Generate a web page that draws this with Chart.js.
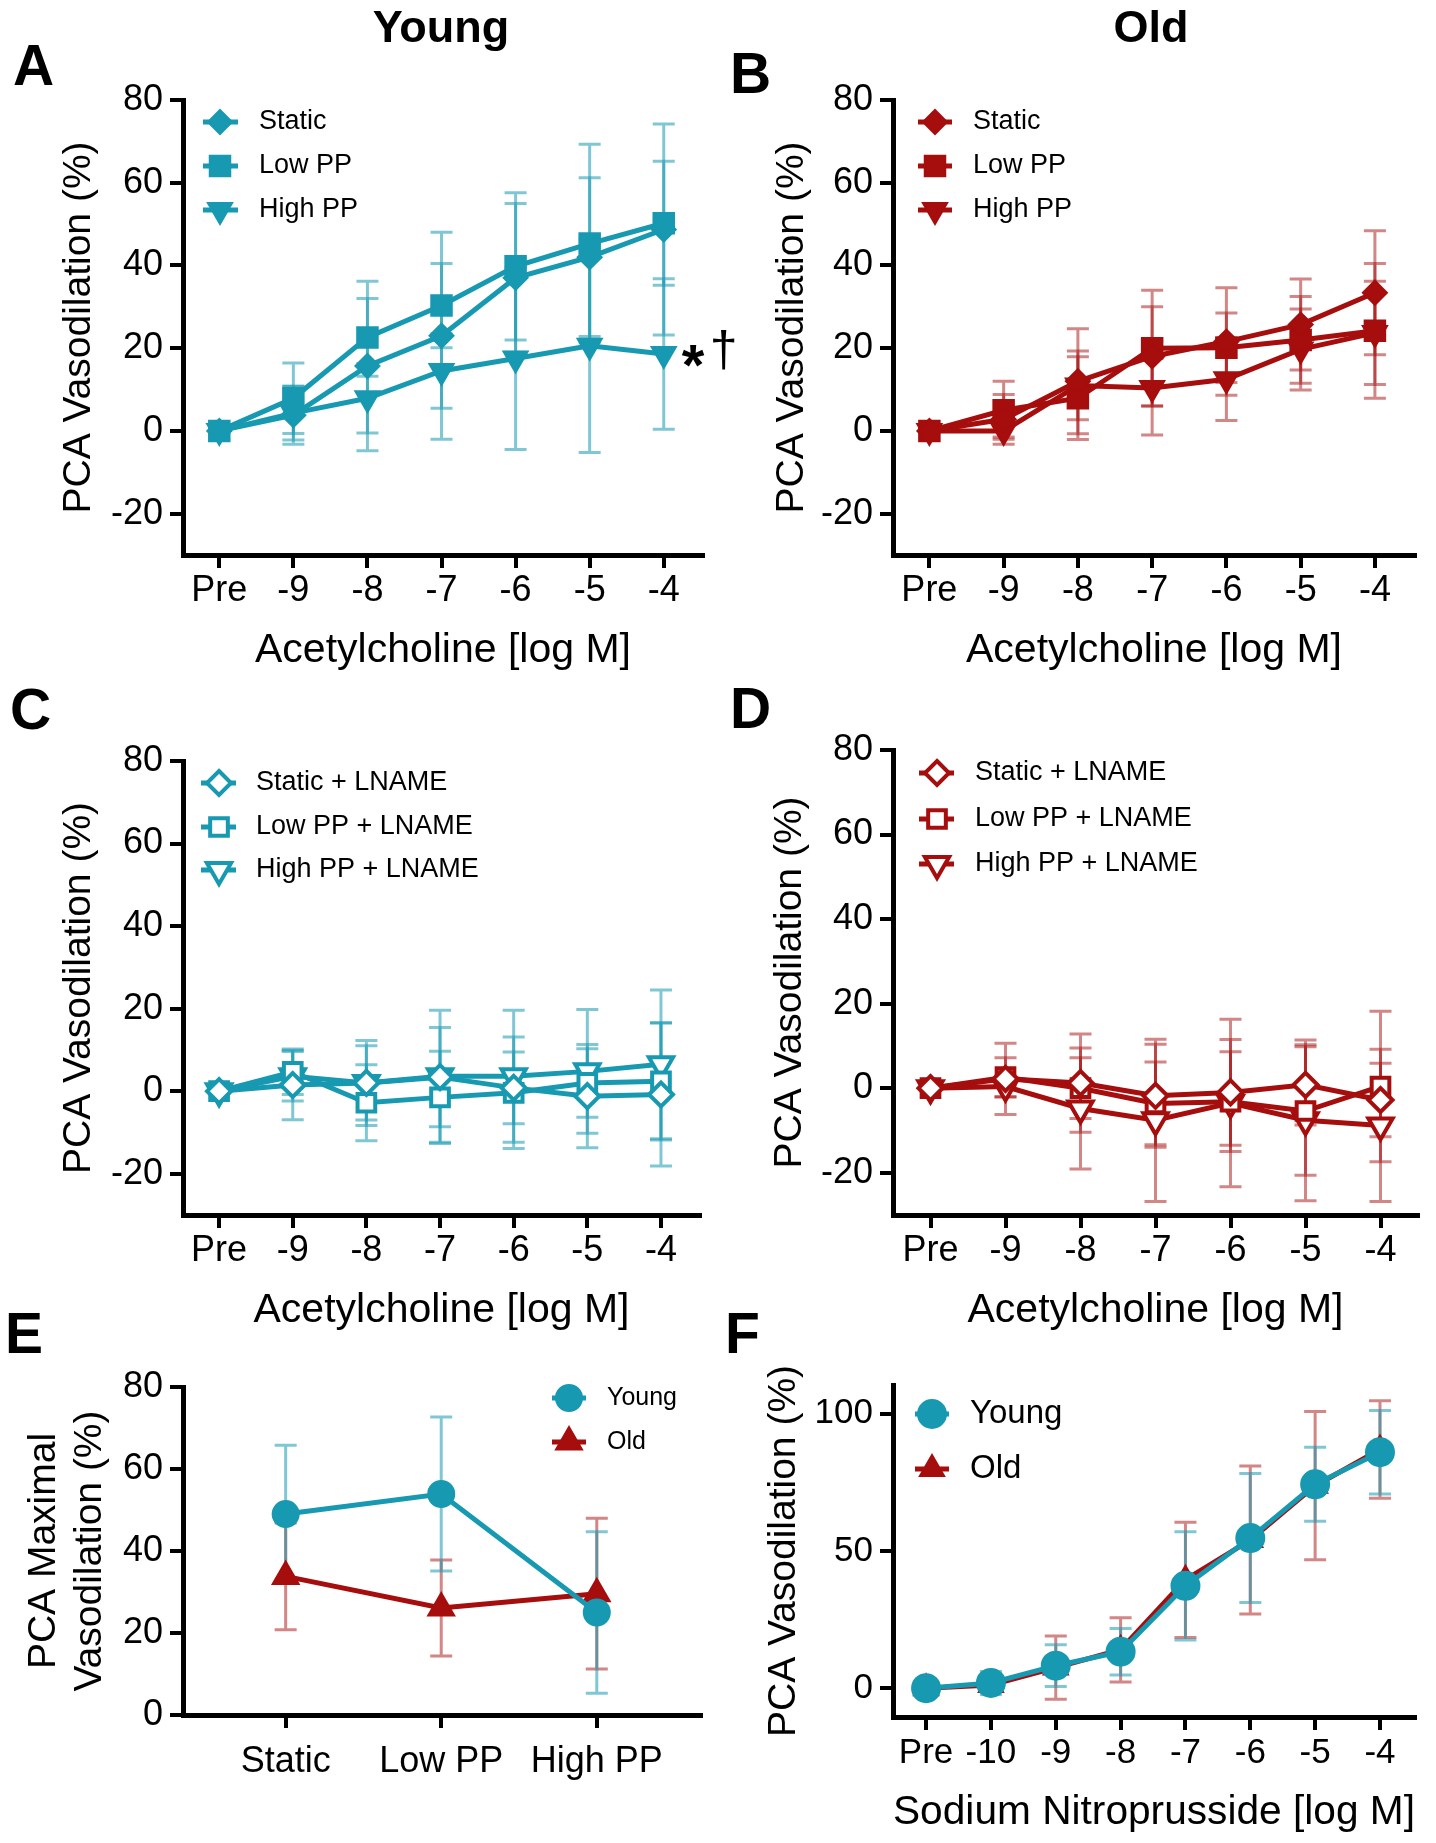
<!DOCTYPE html>
<html>
<head>
<meta charset="utf-8">
<script src="https://cdn.jsdelivr.net/npm/chart.js"></script>
<style>
  body { margin: 0; background: #fff; }
  #fig { position: relative; width: 1436px; height: 1843px; font-family: "Liberation Sans", Arial, sans-serif; color: #000; }
  #fig canvas { position: absolute; }
  .tag { position: absolute; font-weight: bold; font-size: 57px; line-height: 1; }
  .head { position: absolute; width: 240px; text-align: center; font-weight: bold; font-size: 45px; line-height: 1; }
</style>
</head>
<body>
<div id="fig">
  <canvas id="chartA" width="760" height="680" style="left:0;top:0"></canvas>
  <canvas id="chartB" width="718" height="680" style="left:718px;top:0"></canvas>
  <canvas id="chartC" width="718" height="680" style="left:0;top:660px"></canvas>
  <canvas id="chartD" width="718" height="680" style="left:718px;top:660px"></canvas>
  <canvas id="chartE" width="718" height="543" style="left:0;top:1300px"></canvas>
  <canvas id="chartF" width="718" height="543" style="left:718px;top:1300px"></canvas>

  <div class="head" style="left:321px;top:4px">Young</div>
  <div class="head" style="left:1031px;top:4px">Old</div>
  <div class="tag" style="left:13px;top:37px">A</div>
  <div class="tag" style="left:730px;top:45px">B</div>
  <div class="tag" style="left:10px;top:681px">C</div>
  <div class="tag" style="left:730px;top:680px">D</div>
  <div class="tag" style="left:5px;top:1305px">E</div>
  <div class="tag" style="left:725px;top:1305px">F</div>
</div>

<script>
// ---- data ----
const achLabels = ['Pre', '-9', '-8', '-7', '-6', '-5', '-4'];
const snpLabels = ['Pre', '-10', '-9', '-8', '-7', '-6', '-5', '-4'];
const groupLabels = ['Static', 'Low PP', 'High PP'];
const vasoTicks = [-20, 0, 20, 40, 60, 80];
const maxTicks = [0, 20, 40, 60, 80];
const snpTicks = [0, 50, 100];

// A: young, acetylcholine
const youngStatic = [0, 3.8, 15.7, 23, 37, 42, 48.7];
const youngStaticSD = [0, 7, 20.5, 25, 18, 19.2, 25.5];
const youngLow = [0, 7.9, 22.6, 30.3, 39.8, 45.3, 50.2];
const youngLowSD = [0, 8.5, 9.4, 10.2, 17.8, 24, 15];
const youngHigh = [0, 4.3, 7.9, 14.5, 17.5, 20.6, 18.6];
const youngHighSD = [0, 6.5, 8.4, 9, 22, 25.8, 18.2];

// B: old, acetylcholine
const oldStatic = [0, 2.8, 12, 18, 21.6, 25.7, 33.4];
const oldStaticSD = [0, 6, 12.7, 12, 13, 11, 15];
const oldLow = [0, 5, 7.9, 20, 20.1, 22, 24.2];
const oldLowSD = [0, 7, 10, 14, 8.4, 10.5, 16.3];
const oldHigh = [0, 0, 11, 10.4, 12.5, 19.7, 23.7];
const oldHighSD = [0, 1.5, 8.3, 11.4, 10, 9.8, 12.5];

// C: young + LNAME
const youngStaticL = [0, 1.5, 2, 3.4, 0.8, -1.2, -0.8];
const youngStaticLSD = [0, 8.4, 10.3, 12, 8.7, 12.5, 17.3];
const youngLowL = [0, 4.7, -2.8, -1.5, -0.4, 2, 2.4];
const youngLowLSD = [0, 5.5, 9.2, 11.2, 13.5, 8.3, 14.2];
const youngHighL = [0, 3.6, 2, 3.6, 3.6, 4.8, 6.5];
const youngHighLSD = [0, 6, 9, 16, 16, 15, 18];

// D: old + LNAME
const oldStaticL = [0, 2.2, 1.2, -1.8, -1, 0.8, -2.8];
const oldStaticLSD = [0, 8.4, 11.6, 12.2, 12.5, 9.5, 8.7];
const oldLowL = [0, 2.6, 0, -3.6, -3.2, -5.4, 0.4];
const oldLowLSD = [0, 4.6, 7.2, 9.8, 11.8, 15.2, 17.8];
const oldHighL = [0, 0.4, -4.8, -7.6, -3.5, -7.6, -8.8];
const oldHighLSD = [0, 2.5, 14.3, 19.2, 19.8, 19, 18];

// E: maximal vasodilation
const youngMax = [49, 53.9, 25];
const youngMaxSD = [16.8, 18.8, 19.7];
const oldMax = [33.8, 26.1, 29.6];
const oldMaxSD = [13, 11.7, 18.4];

// F: sodium nitroprusside
const snpYoung = [0, 1.9, 8.2, 13.3, 37.3, 54.7, 74.3, 86];
const snpYoungSD = [0, 4.2, 7.6, 8.5, 19.7, 23.5, 13.5, 15.2];
const snpOld = [0, 1.2, 7.5, 14, 39.5, 54, 73.8, 87];
const snpOldSD = [0, 2, 11.5, 11.7, 21, 27, 27, 17.8];

const TEAL = '#1799B1';
const TEAL_ERR = 'rgba(23,153,177,0.55)';
const RED = '#A60D0D';
const RED_ERR = 'rgba(166,13,13,0.5)';

const FONT = '"Liberation Sans", Arial, sans-serif';
Chart.defaults.font.family = FONT;
Chart.defaults.color = '#000';

// ---- plugins ----
const errorBars = {
    id: 'errorBars',
    beforeDatasetsDraw(chart) {
        const ctx = chart.ctx;
        const xs = chart.scales.x, ys = chart.scales.y;
        // last dataset first, so the first dataset's bars end up on top
        for (let d = chart.data.datasets.length - 1; d >= 0; d--) {
            const ds = chart.data.datasets[d];
            if (!ds.errors) continue;
            ctx.save();
            ctx.strokeStyle = ds.errorColor;
            ctx.lineWidth = 3;
            ds.data.forEach((p, i) => {
                const e = ds.errors[i];
                if (!e) return;
                const x = xs.getPixelForValue(p.x);
                const top = ys.getPixelForValue(p.y + e);
                const bot = ys.getPixelForValue(p.y - e);
                ctx.beginPath();
                ctx.moveTo(x, top); ctx.lineTo(x, bot);
                ctx.moveTo(x - 11, top); ctx.lineTo(x + 11, top);
                ctx.moveTo(x - 11, bot); ctx.lineTo(x + 11, bot);
                ctx.stroke();
            });
            ctx.restore();
        }
    }
};

function drawMarker(ctx, shape, r, rot, x, y) {
    ctx.beginPath();
    if (shape === 'circle') {
        ctx.arc(x, y, r, 0, Math.PI * 2);
    } else if (shape === 'rect') {
        const s = r * Math.SQRT1_2;
        ctx.rect(x - s, y - s, 2 * s, 2 * s);
    } else if (shape === 'rectRot') {
        ctx.moveTo(x, y - r); ctx.lineTo(x + r, y); ctx.lineTo(x, y + r); ctx.lineTo(x - r, y);
        ctx.closePath();
    } else if (shape === 'triangle') {
        let a = rot * Math.PI / 180;
        ctx.moveTo(x + Math.sin(a) * r, y - Math.cos(a) * r);
        a += 2 * Math.PI / 3;
        ctx.lineTo(x + Math.sin(a) * r, y - Math.cos(a) * r);
        a += 2 * Math.PI / 3;
        ctx.lineTo(x + Math.sin(a) * r, y - Math.cos(a) * r);
        ctx.closePath();
    }
    ctx.fill();
    ctx.stroke();
}

const panelLegend = {
    id: 'panelLegend',
    afterDraw(chart, args, opts) {
        if (!opts || !opts.rows) return;
        const ctx = chart.ctx;
        chart.data.datasets.forEach((ds, i) => {
            const y = opts.rows[i];
            ctx.save();
            ctx.strokeStyle = ds.borderColor;
            ctx.lineWidth = ds.borderWidth;
            ctx.beginPath();
            ctx.moveTo(opts.x0, y); ctx.lineTo(opts.x1, y);
            ctx.stroke();
            ctx.fillStyle = ds.pointBackgroundColor;
            ctx.lineWidth = ds.pointBorderWidth;
            drawMarker(ctx, ds.pointStyle, ds.pointRadius, ds.pointRotation || 0, opts.mx, y);
            ctx.fillStyle = '#000';
            ctx.font = opts.size + 'px ' + FONT;
            ctx.textBaseline = 'middle';
            ctx.fillText(ds.label, opts.tx, y);
            ctx.restore();
        });
    }
};

// significance marks next to the last point of one series
const panelNote = {
    id: 'panelNote',
    afterDatasetsDraw(chart, args, opts) {
        if (!opts || opts.dataset === undefined) return;
        const pt = chart.getDatasetMeta(opts.dataset).data[opts.index];
        const ctx = chart.ctx;
        ctx.save();
        ctx.fillStyle = '#000';
        ctx.textBaseline = 'middle';
        ctx.font = 'bold 58px ' + FONT;
        ctx.fillText('*', pt.x + 18, pt.y + 15);
        ctx.font = '50px ' + FONT;
        ctx.fillText('†', pt.x + 46, pt.y - 2);
        ctx.restore();
    }
};

// ---- helpers ----
function series(label, vals, errs, color, errColor, shape, r, open, rot) {
    return {
        label: label,
        data: vals.map((y, i) => ({ x: i, y: y })),
        errors: errs,
        errorColor: errColor,
        borderColor: color,
        borderWidth: 5,
        backgroundColor: color,
        pointStyle: shape,
        pointRadius: r,
        pointRotation: rot || 0,
        pointBackgroundColor: open ? '#fff' : color,
        pointBorderColor: color,
        pointBorderWidth: open ? 4 : 2,
        tension: 0,
        clip: false
    };
}

function axisGrid() {
    return { display: true, drawOnChartArea: false, drawTicks: true, tickLength: 13,
             tickWidth: 4, tickColor: '#000', color: '#000', lineWidth: 4 };
}

function buildPanel(id, spec) {
    const canvas = document.getElementById(id);
    const W = canvas.width, H = canvas.height, a = spec.area;
    const yLH = spec.yTitleLH || 1;
    return new Chart(canvas, {
        type: 'line',
        data: { datasets: spec.datasets },
        options: {
            responsive: false,
            animation: false,
            devicePixelRatio: 1,
            layout: { padding: { left: 0, top: a.top, right: W - a.right, bottom: 0 } },
            plugins: {
                legend: { display: false },
                tooltip: { enabled: false },
                panelLegend: spec.legend,
                panelNote: spec.note || {}
            },
            scales: {
                x: {
                    type: 'linear',
                    min: spec.xMin,
                    max: spec.xMax,
                    afterFit: s => { s.height = H - a.bottom; },
                    afterBuildTicks: s => { s.ticks = spec.xLabels.map((_, i) => ({ value: i })); },
                    ticks: { callback: v => spec.xLabels[v], font: { size: spec.xTickSize }, color: '#000',
                             padding: spec.xTickPad, maxRotation: 0, autoSkip: false },
                    grid: axisGrid(),
                    border: { display: true, width: 5, color: '#000' },
                    title: spec.xTitle
                        ? { display: true, text: spec.xTitle, color: '#000', font: { size: 41, lineHeight: 1 },
                            padding: { top: 0, bottom: H - spec.xTitleY - 20.5 } }
                        : { display: false }
                },
                y: {
                    min: spec.yMin,
                    max: spec.yMax,
                    afterFit: s => { s.width = a.left; },
                    afterBuildTicks: s => { s.ticks = spec.yTicks.map(v => ({ value: v })); },
                    ticks: { callback: v => String(v), font: { size: spec.yTickSize }, color: '#000', padding: 7 },
                    grid: axisGrid(),
                    border: { display: true, width: 5, color: '#000' },
                    title: { display: true, text: spec.yTitle, color: '#000',
                             font: { size: 39, lineHeight: yLH },
                             padding: { top: spec.yTitleX - 39 * yLH / 2, bottom: 0 } }
                }
            }
        },
        plugins: [errorBars, panelLegend, panelNote]
    });
}

const achTitle = 'Acetylcholine [log M]';
const vasoTitle = 'PCA Vasodilation (%)';

// A
buildPanel('chartA', {
    area: { left: 183, top: 100, right: 703, bottom: 555 },
    xMin: -0.49, xMax: 6.53, yMin: -30, yMax: 80,
    xLabels: achLabels, yTicks: vasoTicks, xTickSize: 36, yTickSize: 36, xTickPad: 1,
    xTitle: achTitle, xTitleY: 651, yTitle: vasoTitle, yTitleX: 79,
    datasets: [
        series('Static', youngStatic, youngStaticSD, TEAL, TEAL_ERR, 'rectRot', 12),
        series('Low PP', youngLow, youngLowSD, TEAL, TEAL_ERR, 'rect', 14.5),
        series('High PP', youngHigh, youngHighSD, TEAL, TEAL_ERR, 'triangle', 14, false, 180)
    ],
    legend: { x0: 203, x1: 238, mx: 220, tx: 259, rows: [122, 166, 210], size: 27 },
    note: { dataset: 2, index: 6 }
});

// B
buildPanel('chartB', {
    area: { left: 175, top: 100, right: 697, bottom: 555 },
    xMin: -0.49, xMax: 6.54, yMin: -30, yMax: 80,
    xLabels: achLabels, yTicks: vasoTicks, xTickSize: 36, yTickSize: 36, xTickPad: 1,
    xTitle: achTitle, xTitleY: 651, yTitle: vasoTitle, yTitleX: 74,
    datasets: [
        series('Static', oldStatic, oldStaticSD, RED, RED_ERR, 'rectRot', 12),
        series('Low PP', oldLow, oldLowSD, RED, RED_ERR, 'rect', 14.5),
        series('High PP', oldHigh, oldHighSD, RED, RED_ERR, 'triangle', 14, false, 180)
    ],
    legend: { x0: 200, x1: 234, mx: 217, tx: 255, rows: [122, 166, 210], size: 27 }
});

// C
buildPanel('chartC', {
    area: { left: 183, top: 101, right: 703, bottom: 555 },
    xMin: -0.49, xMax: 6.53, yMin: -30, yMax: 80,
    xLabels: achLabels, yTicks: vasoTicks, xTickSize: 36, yTickSize: 36, xTickPad: 1,
    xTitle: achTitle, xTitleY: 651, yTitle: vasoTitle, yTitleX: 79,
    datasets: [
        series('Static + LNAME', youngStaticL, youngStaticLSD, TEAL, TEAL_ERR, 'rectRot', 12, true),
        series('Low PP + LNAME', youngLowL, youngLowLSD, TEAL, TEAL_ERR, 'rect', 12.5, true),
        series('High PP + LNAME', youngHighL, youngHighLSD, TEAL, TEAL_ERR, 'triangle', 14, true, 180)
    ],
    legend: { x0: 201, x1: 236, mx: 219, tx: 256, rows: [123, 167, 210], size: 27 }
});

// D
buildPanel('chartD', {
    area: { left: 175, top: 90, right: 707, bottom: 555 },
    xMin: -0.5, xMax: 6.5, yMin: -30, yMax: 80,
    xLabels: achLabels, yTicks: vasoTicks, xTickSize: 36, yTickSize: 36, xTickPad: 1,
    xTitle: achTitle, xTitleY: 651, yTitle: vasoTitle, yTitleX: 72,
    datasets: [
        series('Static + LNAME', oldStaticL, oldStaticLSD, RED, RED_ERR, 'rectRot', 12, true),
        series('Low PP + LNAME', oldLowL, oldLowLSD, RED, RED_ERR, 'rect', 12.5, true),
        series('High PP + LNAME', oldHighL, oldHighLSD, RED, RED_ERR, 'triangle', 14, true, 180)
    ],
    legend: { x0: 201, x1: 236, mx: 219, tx: 257, rows: [113, 159, 204], size: 27 }
});

// E
buildPanel('chartE', {
    area: { left: 183, top: 87, right: 703, bottom: 415 },
    xMin: -0.66, xMax: 2.67, yMin: 0, yMax: 80,
    xLabels: groupLabels, yTicks: maxTicks, xTickSize: 36, yTickSize: 36, xTickPad: 12,
    yTitle: ['PCA Maximal', 'Vasodilation (%)'], yTitleX: 44, yTitleLH: 1.18,
    datasets: [
        series('Young', youngMax, youngMaxSD, TEAL, TEAL_ERR, 'circle', 13),
        series('Old', oldMax, oldMaxSD, RED, RED_ERR, 'triangle', 15)
    ],
    legend: { x0: 552, x1: 586, mx: 569, tx: 607, rows: [98, 142], size: 25 }
});

// F
buildPanel('chartF', {
    area: { left: 175, top: 85, right: 697, bottom: 417 },
    xMin: -0.51, xMax: 7.54, yMin: -10.5, yMax: 110.5,
    xLabels: snpLabels, yTicks: snpTicks, xTickSize: 35, yTickSize: 35, xTickPad: 2,
    xTitle: 'Sodium Nitroprusside [log M]', xTitleY: 513, yTitle: vasoTitle, yTitleX: 66,
    datasets: [
        series('Young', snpYoung, snpYoungSD, TEAL, TEAL_ERR, 'circle', 14),
        series('Old', snpOld, snpOldSD, RED, RED_ERR, 'triangle', 14)
    ],
    legend: { x0: 197, x1: 231, mx: 214, tx: 252, rows: [114, 169], size: 33 }
});
</script>
</body>
</html>
